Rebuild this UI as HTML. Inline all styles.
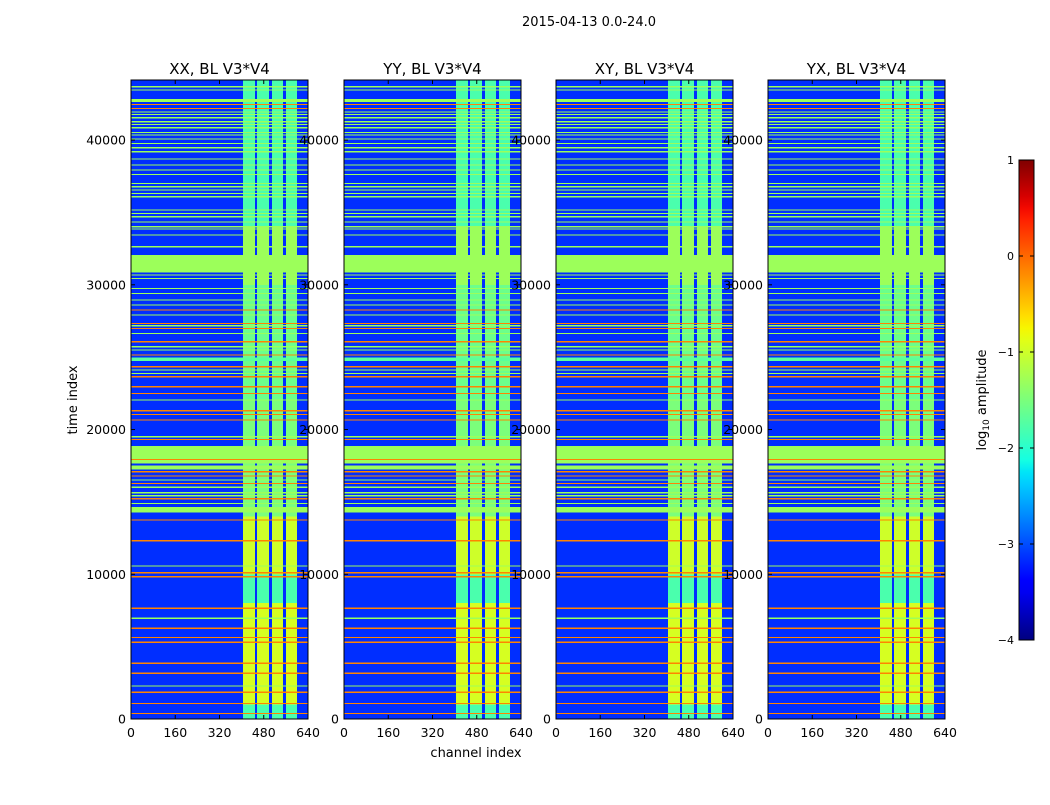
<!DOCTYPE html>
<html><head><meta charset="utf-8">
<style>
body{margin:0;background:#fff;width:1050px;height:800px;overflow:hidden;font-family:"Liberation Sans",sans-serif;}
svg text{font-family:"DejaVu Sans","Liberation Sans",sans-serif;}
</style></head>
<body>
<svg id="fig" width="1050" height="800" xmlns="http://www.w3.org/2000/svg">
<text x="589" y="26" font-size="13" text-anchor="middle">2015-04-13 0.0-24.0</text>
<text x="0" y="0" font-size="13" text-anchor="middle" transform="translate(77,400) rotate(-90)">time index</text>
<text x="476" y="757" font-size="13" text-anchor="middle">channel index</text>
<text x="0" y="0" font-size="13" text-anchor="middle" transform="translate(986,400) rotate(-90)">log<tspan font-size="9" dy="3">10</tspan><tspan dy="-3"> amplitude</tspan></text>
<g id="panels"></g>
<g id="cbar"></g>
</svg>
<script>
const panelTitles=["XX, BL V3*V4","YY, BL V3*V4","XY, BL V3*V4","YX, BL V3*V4"];
const panelLefts=[131,344,556,768];
const xTicks=[0,160,320,480,640];
const yTicks=[0,10000,20000,30000,40000];
const cbTicks=[1,0,-1,-2,-3,-4];
const baseValue=-3.15;
// channel bands [ch0, ch1]
const channelBands=[[405,448],[456,499],[510,550],[560,600]];
// column band values per time segment [t0,t1,value]
const colSegments=[[0,1000,-1.8],[1000,8000,-0.95],[8000,10000,-1.8],[10000,14000,-1.0],[14000,22000,-1.5],[22000,30000,-1.6],[30000,34000,-1.3],[34000,44150,-1.8]];
// broad horizontal bands [t0,t1,value]
const wideBands=[[30860,32050,-1.3],[17660,18860,-1.3],[14280,14650,-1.3],[17250,17500,-1.3],[24750,24990,-1.7],[42640,42840,-1.3]];
// thin horizontal lines: time index centres
const greenLines=[43680,43450,41950,41770,41540,41260,41080,40850,40530,40340,40070,39770,39470,39190,38690,38270,37930,37630,37010,36770,36540,36310,36080,35160,34930,34700,34350,34010,33850,33430,32630,30670,30440,29750,29410,28940,28600,27910,27170,26640,25720,25490,24110,23880,22040,19500,16510,16010,15630,15430,14900,10570,6960,2280];
const orangeLines=[42460,42190,28250,27330,26990,26070,25150,24340,23650,22960,22500,21300,21050,20650,19320,17940,17080,16790,16280,15220,13750,12320,10110,9830,7650,6270,5620,5300,3850,3160,1850,1070,390];
const greenValue=-1.3, orangeValue=-0.15;

const TMAX=44150, PT=80, PB=719, PW=177;
function yScale(t){return PB-(t/TMAX)*(PB-PT);}
function xScale(ch,left){return left+ch/640*PW;}
function interp(x,pts){for(let i=1;i<pts.length;i++){if(x<=pts[i][0]){const a=pts[i-1],b=pts[i];return a[1]+(b[1]-a[1])*(x-a[0])/(b[0]-a[0]);}}return pts[pts.length-1][1];}
function jet(v){
  let x=(v+4)/5; x=Math.max(0,Math.min(1,x));
  const r=interp(x,[[0,0],[0.35,0],[0.66,1],[0.89,1],[1,0.5]]);
  const g=interp(x,[[0,0],[0.125,0],[0.375,1],[0.64,1],[0.91,0],[1,0]]);
  const b=interp(x,[[0,0.5],[0.11,1],[0.34,1],[0.65,0],[1,0]]);
  return `rgb(${Math.round(r*255)},${Math.round(g*255)},${Math.round(b*255)})`;
}
const NS="http://www.w3.org/2000/svg";
function mk(tag,attrs,parent){const e=document.createElementNS(NS,tag);for(const k in attrs)e.setAttribute(k,attrs[k]);parent.appendChild(e);return e;}
const panelsG=document.getElementById('panels');
panelLefts.forEach((L,pi)=>{
  const g=mk('g',{'shape-rendering':'crispEdges'},panelsG);
  
  
  const bg=mk('rect',{x:L,y:PT,width:PW,height:PB-PT,fill:jet(baseValue)},g);
  
  
  colSegments.forEach(s=>{
    channelBands.forEach(cb=>{
      const r=mk('rect',{x:xScale(cb[0],L),y:yScale(s[1]),width:xScale(cb[1],L)-xScale(cb[0],L),height:yScale(s[0])-yScale(s[1]),fill:jet(s[2])},g);
      
      
    });
  });
  wideBands.forEach(b=>{
    const r=mk('rect',{x:L,y:yScale(b[1]),width:PW,height:yScale(b[0])-yScale(b[1]),fill:jet(b[2])},g);
    
    
  });
  greenLines.forEach(t=>{
    const r=mk('rect',{x:L,y:yScale(t+40),width:PW,height:Math.max(1,yScale(t-40)-yScale(t+40)),fill:jet(greenValue)},g);
    
    
  });
  orangeLines.forEach(t=>{
    const r=mk('rect',{x:L,y:yScale(t+40),width:PW,height:Math.max(1,yScale(t-40)-yScale(t+40)),fill:jet(orangeValue)},g);
    
    
  });
  const fr=mk('rect',{x:L,y:PT,width:PW,height:PB-PT,fill:'none',stroke:'#000','stroke-width':1},panelsG);
  
  
  const tt=mk('text',{x:L+PW/2,y:74,'font-size':15,'text-anchor':'middle'},panelsG);
  tt.textContent=panelTitles[pi];
  
  
  xTicks.forEach(v=>{
    const x=xScale(v,L);
    mk('line',{x1:x,x2:x,y1:PB,y2:PB-4,stroke:'#000'},panelsG);
    mk('line',{x1:x,x2:x,y1:PT,y2:PT+4,stroke:'#000'},panelsG);
    const t=mk('text',{x:x,y:737,'font-size':12.5,'text-anchor':'middle'},panelsG);
    t.textContent=v;
    
    
  });
  yTicks.forEach(v=>{
    const y=yScale(v);
    mk('line',{x1:L,x2:L+4,y1:y,y2:y,stroke:'#000'},panelsG);
    mk('line',{x1:L+PW,x2:L+PW-4,y1:y,y2:y,stroke:'#000'},panelsG);
    const t=mk('text',{x:L-5,y:y+4.5,'font-size':12.5,'text-anchor':'end'},panelsG);
    t.textContent=v;
    
    
  });
});
// colorbar
const cb=document.getElementById('cbar');
const defs=mk('defs',{},cb);
const grad=mk('linearGradient',{id:'jetg',x1:0,y1:1,x2:0,y2:0},defs);
for(let i=0;i<=40;i++){mk('stop',{offset:i/40,'stop-color':jet(-4+5*i/40)},grad);}
const CT=160,CB=640,CX=1019,CW=15;
const cr=mk('rect',{x:CX,y:CT,width:CW,height:CB-CT,fill:'url(#jetg)',stroke:'#000','stroke-width':1},cb);


cbTicks.forEach(v=>{
  const y=CB-(v+4)/5*(CB-CT);
  mk('line',{x1:CX,x2:CX+4,y1:y,y2:y,stroke:'#000'},cb);
  mk('line',{x1:CX+CW,x2:CX+CW-4,y1:y,y2:y,stroke:'#000'},cb);
  const t=mk('text',{x:CX-5,y:y+4,'font-size':11,'text-anchor':'end'},cb);
  t.textContent=v<0?'\u2212'+(-v):String(v);
  
  
});
</script>
</body></html>
